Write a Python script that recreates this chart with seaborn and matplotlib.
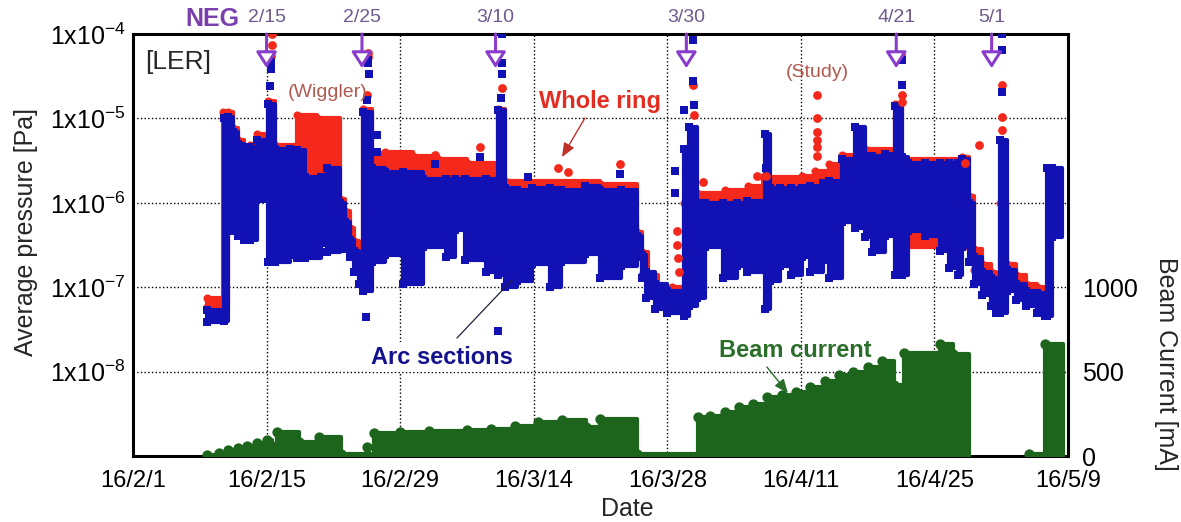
import numpy as np
import pandas as pd
import matplotlib
matplotlib.use("Agg")
import matplotlib.pyplot as plt
import matplotlib.dates as mdates
import seaborn as sns

# ---------------------------------------------------------------- data
# time axis: days elapsed since 2016-02-01
START = pd.Timestamp("2016-02-01")

# Arc sections (blue): band between lower and upper pressure [Pa]; a NaN row closes the band
arc_day = [7.8, 9.5, 10.0, 10.5, 11.0, 11.6, 12.3, 13.0, 13.8, 14.1, 14.9, 16.5, 17.2, 18.0,
           19.7, 20.3, 21.7, 22.2, 22.7, 23.2, 23.7, 24.1, 25.0, 26.4, 28.3, 30.4, 32.8, 33.8,
           34.8, 37.0, 38.3, 39.0, 40.3, 41.8, 43.7, 44.9, 47.4, 49.0, 51.2, 52.8, 53.3, 53.8,
           54.7, 56.0, 57.8, 58.3, 59.1, 60.0, 61.8, 63.3, 64.4, 66.2, 66.8, 67.8, 69.0, 70.1,
           71.0, 72.3, 73.0, 74.3, 75.7, 76.7, 77.5, 78.8, 79.9, 80.6, 81.2, 83.0, 84.6, 85.5,
           86.5, 86.9, 87.6, 88.2, 89.0, 89.9, 90.5, 90.9, 91.6, 92.5, 93.6, 94.8, 95.6, 95.8,
           96.3, 97.4]
arc_lo = [3.9e-8, 4.0e-8, 4.6e-7, 4.6e-7, 4.0e-7, 3.6e-7, 3.6e-7, 1.1e-6, 1.1e-6, 2.0e-7, 2.0e-7,
          2.4e-7, 2.2e-7, 2.2e-7, 3.3e-7, 2.6e-7, 3.1e-7, 2.8e-7, 2.3e-7, 1.5e-7, 1.1e-7, 9.0e-8,
          2.0e-7, 2.4e-7, 1.1e-7, 3.0e-7, 2.3e-7, 4.8e-7, 2.1e-7, 1.5e-7, 1.4e-7, 1.0e-7, 1.2e-7,
          1.9e-7, 1.0e-7, 2.0e-7, 2.5e-7, 1.3e-7, 1.8e-7, 2.3e-7, 1.3e-7, 7.5e-8, 5.5e-8, 5.0e-8,
          4.6e-8, 6.0e-8, 7.5e-8, 3.0e-7, 1.3e-7, 1.8e-7, 1.5e-7, 5.5e-8, 1.2e-7, 1.8e-7, 1.4e-7,
          2.3e-7, 1.5e-7, 2.1e-7, 1.3e-7, 6.0e-7, 5.0e-7, 3.9e-7, 2.6e-7, 4.0e-7, 1.4e-7, 1.4e-7,
          4.6e-7, 4.0e-7, 2.7e-7, 1.7e-7, 1.4e-7, 3.0e-7, 2.0e-7, 1.1e-7, 8.0e-8, 6.0e-8, 5.0e-8,
          5.0e-8, 9.0e-8, 7.0e-8, 6.0e-8, 5.0e-8, 4.5e-8, 4.5e-8, 3.9e-7, np.nan]
arc_hi = [5.4e-8, 1.0e-5, 1.05e-5, 7.0e-6, 5.0e-6, 4.2e-6, 4.6e-6, 5.5e-6, 4.6e-6, 1.5e-5, 4.4e-6,
          4.4e-6, 4.2e-6, 2.0e-6, 2.0e-6, 2.6e-6, 1.0e-6, 6.0e-7, 3.6e-7, 2.7e-7, 2.0e-7, 1.2e-5,
          2.6e-6, 2.3e-6, 2.3e-6, 1.9e-6, 1.9e-6, 1.9e-6, 1.9e-6, 1.9e-6, 1.25e-5, 1.5e-6, 1.4e-6,
          1.5e-6, 1.5e-6, 1.4e-6, 1.6e-6, 1.4e-6, 1.4e-6, 4.1e-7, 2.4e-7, 1.5e-7, 1.1e-7, 9.0e-8,
          4.4e-6, 8.0e-6, 1.0e-6, 1.0e-6, 1.0e-6, 1.0e-6, 1.05e-6, 6.5e-6, 1.5e-6, 1.5e-6, 1.5e-6,
          1.5e-6, 1.6e-6, 1.7e-6, 1.8e-6, 3.3e-6, 8.0e-6, 3.6e-6, 3.6e-6, 3.8e-6, 1.4e-5, 3.5e-6,
          3.0e-6, 3.0e-6, 3.0e-6, 3.0e-6, 3.0e-6, 3.3e-6, 1.0e-6, 2.3e-7, 1.5e-7, 1.3e-7, 1.2e-7,
          5.5e-6, 1.6e-7, 1.1e-7, 9.0e-8, 8.5e-8, 8.0e-8, 2.6e-6, 2.6e-6, np.nan]

# Whole ring (red)
ring_day = [7.8, 9.4, 10.0, 10.5, 11.0, 11.6, 12.3, 13.0, 13.8, 14.1, 14.9, 17.2, 19.3, 21.7,
            22.2, 22.7, 23.2, 23.7, 24.1, 25.0, 26.4, 29.4, 32.0, 35.0, 38.3, 39.0, 49.0, 52.8,
            53.3, 54.0, 55.0, 56.5, 57.8, 59.1, 62.0, 64.5, 66.0, 70.1, 71.5, 72.9, 74.3, 76.7,
            79.9, 80.6, 86.9, 87.6, 88.2, 89.0, 89.9, 90.5, 90.9, 91.6, 92.5, 93.6, 94.8, 95.6]
ring_lo = [5.8e-8, 6.0e-8, 2.0e-6, 2.0e-6, 2.0e-6, 2.0e-6, 2.0e-6, 2.0e-6, 2.0e-6, 2.0e-6, 2.0e-6,
           1.0e-6, 1.0e-6, 6.0e-7, 4.0e-7, 3.0e-7, 2.2e-7, 1.7e-7, 1.5e-7, 1.0e-6, 1.0e-6, 1.0e-6,
           1.0e-6, 1.0e-6, 1.0e-6, 6.0e-7, 6.0e-7, 2.3e-7, 1.4e-7, 1.0e-7, 7.5e-8, 7.5e-8, 8.0e-8,
           6.0e-7, 6.0e-7, 6.0e-7, 6.0e-7, 6.0e-7, 6.0e-7, 6.0e-7, 6.0e-7, 6.0e-7, 6.0e-7, 3.0e-7,
           3.0e-7, 3.0e-7, 1.6e-7, 1.2e-7, 1.0e-7, 9.0e-8, 9.0e-8, 1.2e-7, 1.0e-7, 8.0e-8, 7.0e-8,
           np.nan]
ring_hi = [7.4e-8, 1.2e-5, 1.2e-5, 7.8e-6, 5.5e-6, 4.6e-6, 4.8e-6, 6.5e-6, 5.5e-6, 1.6e-5, 4.8e-6,
           1.1e-5, 1.0e-5, 1.1e-6, 8.0e-7, 5.0e-7, 3.5e-7, 2.6e-7, 1.3e-5, 3.9e-6, 4.0e-6, 3.6e-6,
           3.3e-6, 3.0e-6, 1.3e-5, 1.8e-6, 1.65e-6, 4.5e-7, 2.6e-7, 1.4e-7, 1.0e-7, 1.0e-7, 1.0e-6,
           1.3e-6, 1.4e-6, 1.6e-6, 2.0e-6, 2.1e-6, 2.4e-6, 2.9e-6, 3.7e-6, 4.3e-6, 1.5e-5, 3.3e-6,
           3.5e-6, 1.2e-6, 2.8e-7, 1.9e-7, 1.5e-7, 1.3e-7, 1.0e-6, 1.9e-7, 1.4e-7, 1.1e-7, 1.0e-7,
           np.nan]

# isolated readings (NEG activation bursts, study, etc.)
ring_dot_day = [14.6, 14.6, 14.5, 24.6, 24.6, 24.5, 31.7, 36.4, 38.7, 44.5, 45.6, 51.0, 57.0,
                57.0, 57.1, 57.2, 58.7, 58.8, 59.7, 65.4, 66.4, 71.7, 71.7, 71.7, 71.7, 71.7,
                71.7, 80.5, 80.6, 80.6, 88.7, 91.1, 91.1, 91.1, 87.2]
ring_dot_p = [1.0e-4, 7.5e-5, 5.5e-5, 6.0e-5, 5.3e-5, 1.9e-5, 3.7e-6, 4.6e-6, 2.3e-5, 2.6e-6,
              2.3e-6, 2.9e-6, 4.7e-7, 3.2e-7, 2.2e-7, 1.5e-7, 2.5e-5, 1.1e-5, 1.75e-6, 2.1e-6,
              2.1e-6, 1.9e-5, 1.0e-5, 6.9e-6, 5.5e-6, 4.6e-6, 3.6e-6, 5.6e-5, 1.9e-5, 1.55e-5,
              4.8e-6, 2.5e-5, 1.05e-5, 7.3e-6, 3.0e-6]
arc_dot_day = [14.5, 14.5, 14.4, 24.6, 24.6, 24.7, 24.5, 24.4, 25.6, 25.6, 31.7, 36.4, 38.7,
               38.7, 38.7, 38.6, 38.3, 41.4, 51.0, 56.8, 56.8, 57.8, 58.7, 58.7, 58.8, 66.4,
               80.6, 80.6, 91.1, 91.1, 91.1]
arc_dot_p = [4.6e-5, 3.9e-5, 2.4e-5, 4.9e-5, 4.5e-5, 3.4e-5, 1.65e-5, 4.4e-8, 6.3e-6, 4.0e-6,
             2.9e-6, 3.5e-6, 1.0e-4, 4.5e-5, 3.4e-5, 1.75e-5, 3.0e-8, 2.0e-6, 2.2e-6, 2.4e-6,
             1.3e-6, 1.25e-5, 8.5e-5, 2.8e-5, 1.45e-5, 2.6e-6, 4.9e-5, 2.5e-5, 1.0e-4, 6.5e-5,
             2.05e-5]

# Beam current [mA] (upper level of each stretch; NaN row closes a stretch)
beam_day = [7.8, 9.0, 10.0, 11.0, 12.0, 13.0, 14.0, 14.6, 15.1, 17.4, 19.5, 21.8, 25.3, 28.0,
            31.0, 35.0, 37.5, 40.0, 42.5, 45.0, 47.5, 49.0, 52.8, 59.2, 60.5, 62.0, 63.5, 65.0,
            66.5, 68.0, 69.5, 71.0, 72.5, 74.0, 75.5, 77.0, 78.5, 79.8, 80.8, 84.6, 86.0, 87.6,
            93.9, 95.6, 97.5]
beam_ma = [8, 20, 35, 50, 62, 78, 92, 60, 140, 85, 110, 10, 135, 145, 150, 155, 160, 175, 200,
           215, 170, 220, 12, 230, 240, 260, 290, 310, 350, 360, 380, 410, 445, 480, 500, 530,
           565, 420, 610, 665, 605, np.nan, 10, 665, np.nan]
beam_dot_day = [24.5]
beam_dot_ma = [53]

# NEG activation dates
neg_day = [14, 24, 38, 58, 80, 90]
neg_labels = ["2/15", "2/25", "3/10", "3/30", "4/21", "5/1"]

# axis ticks
x_tick_day = [0, 14, 28, 42, 56, 70, 84, 98]
y_ticks = [1e-8, 1e-7, 1e-6, 1e-5, 1e-4]
y_tick_labels = [r"1x10$^{-8}$", r"1x10$^{-7}$", r"1x10$^{-6}$", r"1x10$^{-5}$", r"1x10$^{-4}$"]
beam_ticks = [0, 500, 1000]

# ---------------------------------------------------------------- style
sns.set_theme(style="white")
plt.rcParams["font.family"] = ["Liberation Sans", "DejaVu Sans"]
plt.rcParams["mathtext.fontset"] = "custom"
plt.rcParams["mathtext.rm"] = "Liberation Sans"
plt.rcParams["mathtext.it"] = "Liberation Sans:italic"
plt.rcParams["mathtext.bf"] = "Liberation Sans:bold"

RED = "#f5281c"
BLUE = "#1212b4"
GREEN = "#1d641d"
PURPLE = "#8a3ccc"
NEG_TEXT = "#7a3fae"
DATE_TEXT = "#6e5a8e"


def to_date(days):
    return START + pd.to_timedelta(np.asarray(days, float), unit="D")


def draw_band(ax, days, lo, hi, color, marker, size, z):
    days = np.asarray(days, float)
    hi = np.asarray(hi, float)
    lo = np.zeros_like(hi) if lo is None else np.asarray(lo, float)
    start = 0
    for end in np.flatnonzero(np.isnan(hi)):
        t = np.append(days[start:end], days[end])
        l = np.append(lo[start:end], lo[end - 1])
        h = np.append(hi[start:end], hi[end - 1])
        x = to_date(t)
        ax.fill_between(x, l, h, step="post", facecolor=color, edgecolor=color,
                        lw=3.0, zorder=z)
        pts = pd.DataFrame({"date": np.concatenate([x[:-1], x[:-1]]),
                            "v": np.concatenate([l[:-1], h[:-1]])})
        pts = pts[pts["v"] > 0]
        sns.scatterplot(data=pts, x="date", y="v", marker=marker, s=size, color=color,
                        linewidth=0, ax=ax, zorder=z, legend=False)
        start = end + 1


fig = plt.figure(figsize=(11.81, 5.22), dpi=100)
ax = fig.add_axes([0.1126, 0.1264, 0.7917, 0.8084])
ax2 = ax.twinx()

# pressure bands
draw_band(ax, ring_day, ring_lo, ring_hi, RED, "o", 34, 2)
draw_band(ax, arc_day, arc_lo, arc_hi, BLUE, "s", 26, 3)
sns.scatterplot(x=to_date(ring_dot_day), y=ring_dot_p, marker="o", s=40, color=RED,
                linewidth=0, ax=ax, zorder=4, legend=False)
sns.scatterplot(x=to_date(arc_dot_day), y=arc_dot_p, marker="s", s=30, color=BLUE,
                linewidth=0, ax=ax, zorder=5, legend=False)

# beam current on the right-hand scale
draw_band(ax2, beam_day, None, beam_ma, GREEN, "o", 55, 2)
sns.scatterplot(x=to_date(beam_dot_day), y=beam_dot_ma, marker="o", s=55, color=GREEN,
                linewidth=0, ax=ax2, zorder=2, legend=False)

# axes, scales, grid
ax.set_yscale("log")
ax.set_ylim(1e-9, 1e-4)
ax.set_xlim(to_date([0])[0], to_date([98])[0])
ax.set_yticks(y_ticks)
ax.set_yticklabels(y_tick_labels)
ax.yaxis.set_minor_locator(matplotlib.ticker.NullLocator())
xt = to_date(x_tick_day)
ax.set_xticks(xt)
ax.set_xticklabels([f"{d:%y}/{d.month}/{d.day}" for d in xt])
ax.tick_params(axis="y", length=0, pad=5, labelsize=18, colors="black")
ax.tick_params(axis="x", length=0, pad=10, labelsize=17, colors="black")
ax.grid(True, linestyle=":", color="black", lw=1.0)
ax.set_axisbelow(True)
ax.set_xlabel("")
ax.set_ylabel("")
for s in ax.spines.values():
    s.set_visible(True)
    s.set_color("black")
    s.set_linewidth(2.2)

ax2.set_ylim(0, 2500)
ax2.set_yticks(beam_ticks)
ax2.tick_params(axis="y", length=0, pad=10, labelsize=18, colors="black")
ax2.grid(False)
ax2.set_ylabel("")
for s in ax2.spines.values():
    s.set_visible(False)

fig.text(26 / 1181, 1 - 232 / 522, "Average pressure [Pa]", rotation=90,
         ha="center", va="center", fontsize=18)
fig.text(1166 / 1181, 1 - 364 / 522, "Beam Current [mA]", rotation=270,
         ha="center", va="center", fontsize=18)
fig.text(627 / 1181, 1 - 509 / 522, "Date", ha="center", va="center", fontsize=18)

# annotations
ax.text(0.013, 0.934, "[LER]", transform=ax.transAxes, fontsize=19, va="center", ha="left")
ax.text(0.4995, 0.841, "Whole ring", transform=ax.transAxes, fontsize=17, fontweight="bold",
        color="#e32d20", ha="center", va="center", zorder=6)
ax.annotate("", xy=(0.4588, 0.7085), xycoords="axes fraction", xytext=(0.4834, 0.801),
            arrowprops=dict(arrowstyle="-|>,head_length=0.6,head_width=0.25", color="#c03028",
                            lw=1.0, mutation_scale=14, shrinkA=0, shrinkB=0), zorder=6)
ax.text(0.3305, 0.2346, "Arc sections", transform=ax.transAxes, fontsize=17,
        fontweight="bold", color="#15128f", ha="center", va="center", zorder=6,
        bbox=dict(boxstyle="square,pad=0.15", fc="white", ec="none"))
ax.annotate("", xy=(0.4053, 0.417), xycoords="axes fraction", xytext=(0.3465, 0.2796),
            arrowprops=dict(arrowstyle="-", color="#202040", lw=0.9, shrinkA=0, shrinkB=0),
            zorder=6)
ax2.text(0.708, 0.249, "Beam current", transform=ax2.transAxes, fontsize=17,
         fontweight="bold", color="#2a6e2a", ha="center", va="center", zorder=6)
ax2.annotate("", xy=(0.7005, 0.149), xycoords="axes fraction", xytext=(0.678, 0.211),
             arrowprops=dict(arrowstyle="-|>,head_length=0.6,head_width=0.25", color="#2a6e2a",
                             lw=1.0, mutation_scale=14, shrinkA=0, shrinkB=0), zorder=6)
ax.text(0.2086, 0.8626, "(Wiggler)", transform=ax.transAxes, fontsize=14, color="#b05a50",
        ha="center", va="center", zorder=6)
ax.text(0.7316, 0.910, "(Study)", transform=ax.transAxes, fontsize=14, color="#b05a50",
        ha="center", va="center", zorder=6)

# NEG activation markers above the frame
fig.text(212 / 1181, 1 - 19 / 522, "NEG", fontsize=18, fontweight="bold", color=NEG_TEXT,
         ha="center", va="center")
for d, lab in zip(neg_day, neg_labels):
    xd = mdates.date2num(to_date([d])[0])
    ax2.annotate("", xy=(xd, 0.919), xycoords=("data", "axes fraction"),
                 xytext=(xd, 1.0), textcoords=("data", "axes fraction"),
                 arrowprops=dict(arrowstyle="-|>,head_length=0.7,head_width=0.45",
                                 mutation_scale=14, lw=2.2, ec=PURPLE, fc="white",
                                 shrinkA=0, shrinkB=0),
                 annotation_clip=False, zorder=10)
    ax2.text(xd, 1.038, lab, transform=ax2.get_xaxis_transform(), fontsize=14,
             color=DATE_TEXT, ha="center", va="center")

fig.savefig("out.png", dpi=100)
